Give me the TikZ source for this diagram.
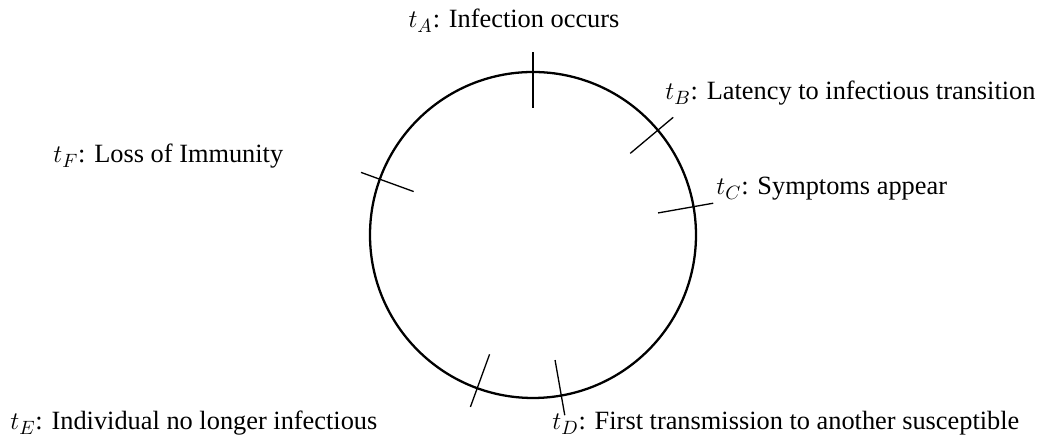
\documentclass[tikz,border=0pt]{standalone}
\usepackage{fontspec}
\setmainfont{Liberation Serif}
\usetikzlibrary{positioning}

\tikzset{
  cycleline/.style={line width=1.3pt},
  tickline/.style={line width=0.75pt},
  eventlabel/.style={inner sep=0pt,font=\fontsize{15}{18}\selectfont}
}

\begin{document}
\begin{tikzpicture}
  \useasboundingbox (-10.66,-4.06) rectangle (10.12,4.70);
  % The cycle
  \draw[cycleline] (0,0) circle (3.26);
  % Ticks on the cycle, one per event
  \foreach \ang/\nm in {90/A,40/B,10/C,-80/D,-110/E,160/F}
    \draw[tickline] (\ang:2.54) coordinate (in\nm) -- (\ang:3.66) coordinate (out\nm);
  % Event labels
  \node[eventlabel,anchor=base] (labA) at (-0.38,4.14) {$t_A$: Infection occurs};
  \node[eventlabel,anchor=base west] (labB) at (2.64,2.70) {$t_B$: Latency to infectious transition};
  \node[eventlabel,anchor=base west] (labC) at (3.66,0.80) {$t_C$: Symptoms appear};
  \node[eventlabel,anchor=base west] (labD) at (0.38,-3.90) {$t_D$: First transmission to another susceptible};
  \node[eventlabel,anchor=base west] (labE) at (-10.46,-3.90) {$t_E$: Individual no longer infectious};
  \node[eventlabel,anchor=base west] (labF) at (-9.60,1.44) {$t_F$: Loss of Immunity};
\end{tikzpicture}
\end{document}
